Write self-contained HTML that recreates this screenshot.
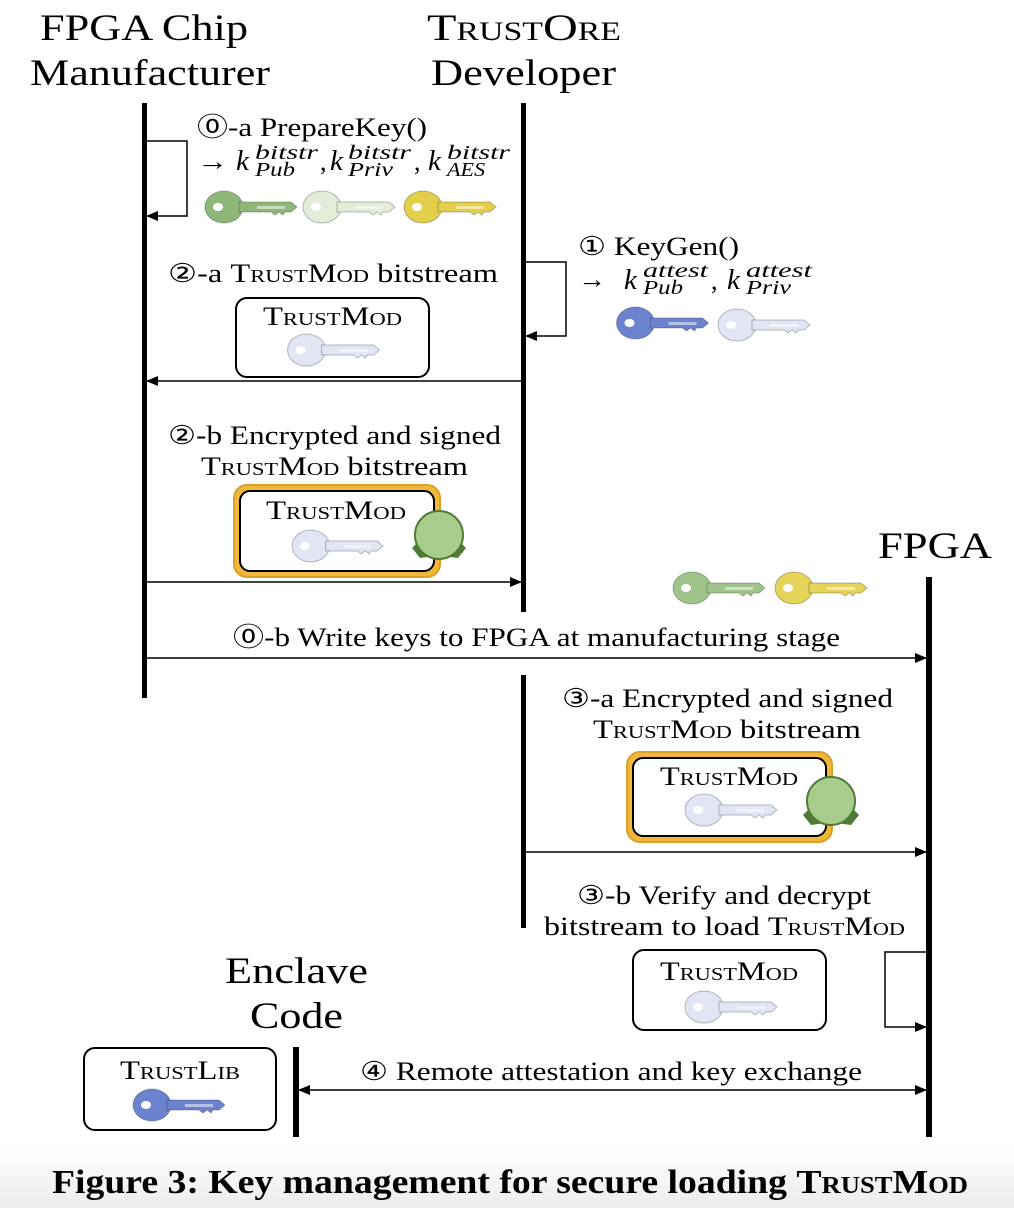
<!DOCTYPE html>
<html><head><meta charset="utf-8"><style>
body{margin:0;width:1014px;height:1208px;background:#fff;overflow:hidden}
svg{position:absolute;left:0;top:0}
text{font-family:"Liberation Serif",serif;fill:#000}
.sc{font-variant:small-caps}
.h{font-size:37px}
.l{font-size:26px}
.k{font-style:italic;font-size:29px}
.s{font-style:italic;font-size:20px}
</style></head><body>
<svg width="1014" height="1208" viewBox="0 0 1014 1208">
<defs>
<linearGradient id="bg" x1="0" y1="0" x2="0" y2="1"><stop offset="0" stop-color="#fff"/><stop offset="1" stop-color="#ececec"/></linearGradient>
<marker id="a" markerWidth="12" markerHeight="10" refX="11" refY="5" orient="auto" markerUnits="userSpaceOnUse"><path d="M0,0 L12,5 L0,10z" fill="#000"/></marker>
<marker id="b" markerWidth="12" markerHeight="10" refX="1" refY="5" orient="auto" markerUnits="userSpaceOnUse"><path d="M12,0 L0,5 L12,10z" fill="#000"/></marker>
<symbol id="key" viewBox="0 0 92 36" overflow="visible">
<ellipse cx="19" cy="18" rx="19" ry="16" fill="currentColor" stroke="rgba(0,0,0,0.25)"/>
<ellipse cx="13" cy="18" rx="5" ry="4" fill="#fff"/>
<path d="M34,13 L86,13 L92,18 L86,23 L80,23 L78,26 L74,23 L70,26 L66,23 L34,23z" fill="currentColor" stroke="rgba(0,0,0,0.25)"/>
<rect x="52" y="17" width="28" height="3" fill="rgba(255,255,255,0.5)"/>
</symbol>
</defs>
<rect x="0" y="1145" width="1014" height="63" fill="url(#bg)"/>
<g fill="#000">
<rect x="142" y="103" width="5" height="595"/>
<rect x="521" y="103" width="5" height="509"/>
<rect x="521" y="675" width="5" height="253"/>
<rect x="926" y="577" width="6" height="560"/>
<rect x="293" y="1047" width="6" height="90"/>
</g>
<g stroke="#000" stroke-width="1.5" fill="none">
<path d="M147,141 H187 V216 H147" marker-end="url(#a)"/>
<path d="M526,262 H566 V336 H526" marker-end="url(#a)"/>
<path d="M926,952 H885 V1027 H926" marker-end="url(#a)"/>
<line x1="521" y1="381" x2="147" y2="381" marker-end="url(#a)"/>
<line x1="147" y1="582" x2="521" y2="582" marker-end="url(#a)"/>
<line x1="147" y1="658" x2="926" y2="658" marker-end="url(#a)"/>
<line x1="526" y1="852" x2="926" y2="852" marker-end="url(#a)"/>
<line x1="299" y1="1090" x2="926" y2="1090" marker-end="url(#a)" marker-start="url(#b)"/>
</g>
<g fill="#fff" stroke="#000" stroke-width="2">
<rect x="236" y="298" width="193" height="79" rx="11"/>
<rect x="234" y="485" width="206" height="92" rx="13" fill="#f0b83a" stroke="#d9a02a"/>
<rect x="240" y="491" width="194" height="80" rx="10"/>
<rect x="627" y="752" width="205" height="90" rx="13" fill="#f0b83a" stroke="#d9a02a"/>
<rect x="633" y="758" width="193" height="78" rx="10"/>
<rect x="633" y="950" width="193" height="80" rx="11"/>
<rect x="84" y="1048" width="192" height="82" rx="11"/>
</g>
<g fill="#4f7a35"><path d="M412,548 L424,536 L434,556 L420,558z"/><path d="M466,548 L454,536 L444,556 L458,558z"/>
<path d="M803,815 L815,803 L825,823 L811,825z"/><path d="M859,815 L847,803 L837,823 L851,825z"/></g>
<circle cx="439" cy="535" r="24" fill="#a8cc8c" stroke="#4f7a35" stroke-width="2"/>
<circle cx="831" cy="801" r="24" fill="#a8cc8c" stroke="#4f7a35" stroke-width="2"/>
<g>
<use href="#key" x="205" y="189" width="92" height="36" color="#8fb77a"/>
<use href="#key" x="303" y="189" width="92" height="36" color="#e2ecd8"/>
<use href="#key" x="404" y="189" width="92" height="36" color="#e3cf4a"/>
<use href="#key" x="615" y="305" width="95" height="36" color="#6b82cf"/>
<use href="#key" x="718" y="307" width="92" height="36" color="#e2e6f4"/>
<use href="#key" x="287" y="332" width="93" height="36" color="#e2e6f4"/>
<use href="#key" x="292" y="528" width="91" height="36" color="#e2e6f4"/>
<use href="#key" x="673" y="570" width="92" height="36" color="#9fc48a"/>
<use href="#key" x="775" y="570" width="92" height="36" color="#e6d45a"/>
<use href="#key" x="685" y="792" width="92" height="36" color="#e2e6f4"/>
<use href="#key" x="685" y="989" width="92" height="36" color="#e2e6f4"/>
<use href="#key" x="133" y="1087" width="92" height="36" color="#6b82cf"/>
</g>
<g lengthAdjust="spacingAndGlyphs">
<text class="h" x="40" y="40" textLength="208" lengthAdjust="spacingAndGlyphs">FPGA Chip</text>
<text class="h" x="30" y="85" textLength="240" lengthAdjust="spacingAndGlyphs">Manufacturer</text>
<text class="h sc" x="427" y="40" textLength="194" lengthAdjust="spacingAndGlyphs">TrustOre</text>
<text class="h" x="431" y="85" textLength="185" lengthAdjust="spacingAndGlyphs">Developer</text>
<text class="h" x="878" y="558" textLength="114" lengthAdjust="spacingAndGlyphs">FPGA</text>
<text class="h" x="225" y="983" textLength="143" lengthAdjust="spacingAndGlyphs">Enclave</text>
<text class="h" x="250" y="1028" textLength="93" lengthAdjust="spacingAndGlyphs">Code</text>

<text class="l" x="197" y="136" textLength="230" lengthAdjust="spacingAndGlyphs">⓪-a PrepareKey()</text>
<text class="l" x="197" y="170" textLength="31" lengthAdjust="spacingAndGlyphs">→</text>
<text class="k" x="236" y="170">k</text>
<text class="s" x="255" y="159" textLength="63" lengthAdjust="spacingAndGlyphs">bitstr</text>
<text class="s" x="255" y="176" textLength="40" lengthAdjust="spacingAndGlyphs">Pub</text>
<text class="l" x="320" y="170">,</text>
<text class="k" x="330" y="170">k</text>
<text class="s" x="348" y="159" textLength="63" lengthAdjust="spacingAndGlyphs">bitstr</text>
<text class="s" x="348" y="176" textLength="45" lengthAdjust="spacingAndGlyphs">Priv</text>
<text class="l" x="414" y="170">,</text>
<text class="k" x="428" y="170">k</text>
<text class="s" x="447" y="159" textLength="63" lengthAdjust="spacingAndGlyphs">bitstr</text>
<text class="s" x="447" y="176" textLength="38" lengthAdjust="spacingAndGlyphs">AES</text>

<text class="l" x="578" y="255" textLength="161" lengthAdjust="spacingAndGlyphs">① KeyGen()</text>
<text class="l" x="578" y="288" textLength="28" lengthAdjust="spacingAndGlyphs">→</text>
<text class="k" x="624" y="289">k</text>
<text class="s" x="643" y="277" textLength="65" lengthAdjust="spacingAndGlyphs">attest</text>
<text class="s" x="643" y="294" textLength="40" lengthAdjust="spacingAndGlyphs">Pub</text>
<text class="l" x="711" y="289">,</text>
<text class="k" x="727" y="289">k</text>
<text class="s" x="746" y="277" textLength="66" lengthAdjust="spacingAndGlyphs">attest</text>
<text class="s" x="746" y="294" textLength="45" lengthAdjust="spacingAndGlyphs">Priv</text>

<text class="l" x="168" y="282" textLength="330" lengthAdjust="spacingAndGlyphs">②-a <tspan class="sc">TrustMod</tspan> bitstream</text>
<text class="l sc" x="263" y="325" textLength="139" lengthAdjust="spacingAndGlyphs">TrustMod</text>
<text class="l" x="168" y="444" textLength="333" lengthAdjust="spacingAndGlyphs">②-b Encrypted and signed</text>
<text class="l" x="201" y="475" textLength="267" lengthAdjust="spacingAndGlyphs"><tspan class="sc">TrustMod</tspan> bitstream</text>
<text class="l sc" x="266" y="519" textLength="140" lengthAdjust="spacingAndGlyphs">TrustMod</text>
<text class="l" x="233" y="646" textLength="607" lengthAdjust="spacingAndGlyphs">⓪-b Write keys to FPGA at manufacturing stage</text>
<text class="l" x="562" y="707" textLength="331" lengthAdjust="spacingAndGlyphs">③-a Encrypted and signed</text>
<text class="l" x="593" y="738" textLength="268" lengthAdjust="spacingAndGlyphs"><tspan class="sc">TrustMod</tspan> bitstream</text>
<text class="l sc" x="660" y="785" textLength="138" lengthAdjust="spacingAndGlyphs">TrustMod</text>
<text class="l" x="577" y="904" textLength="294" lengthAdjust="spacingAndGlyphs">③-b Verify and decrypt</text>
<text class="l" x="544" y="935" textLength="361" lengthAdjust="spacingAndGlyphs">bitstream to load <tspan class="sc">TrustMod</tspan></text>
<text class="l sc" x="660" y="980" textLength="138" lengthAdjust="spacingAndGlyphs">TrustMod</text>
<text class="l sc" x="120" y="1079" textLength="120" lengthAdjust="spacingAndGlyphs">TrustLib</text>
<text class="l" x="360" y="1080" textLength="502" lengthAdjust="spacingAndGlyphs">④ Remote attestation and key exchange</text>
<text x="52" y="1193" style="font-size:34px;font-weight:bold" textLength="916" lengthAdjust="spacingAndGlyphs">Figure 3: Key management for secure loading <tspan class="sc">TrustMod</tspan></text>
</g>
</svg>
</body></html>
